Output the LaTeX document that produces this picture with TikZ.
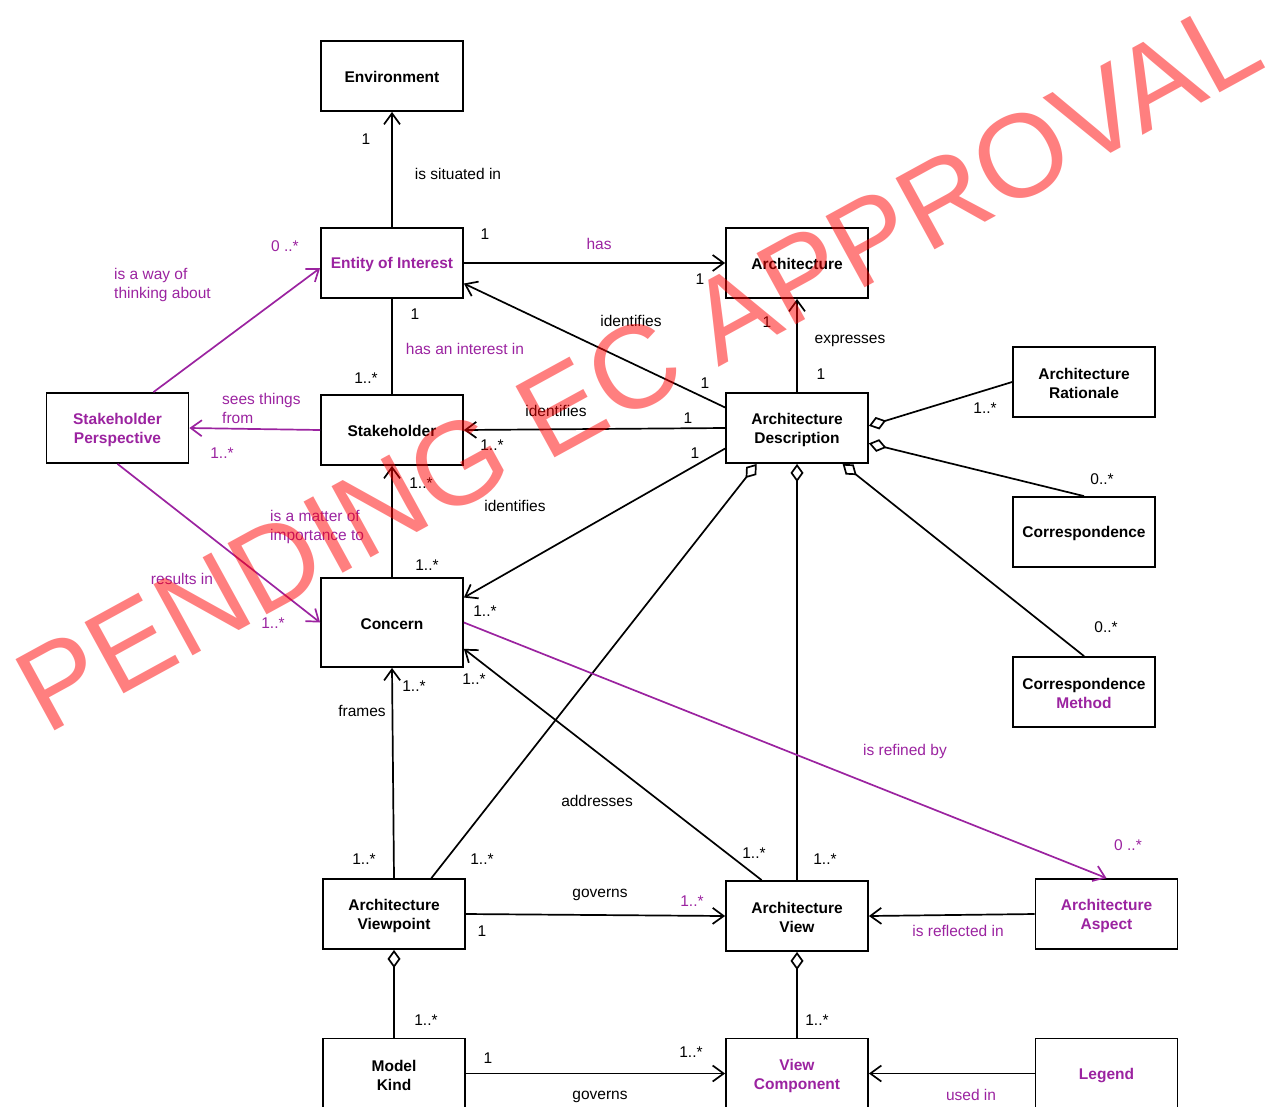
\documentclass[tikz,border=0pt]{standalone}
\usepackage{fontspec}
\setmainfont{Liberation Sans}
\usetikzlibrary{arrows.meta,calc}
\definecolor{plum}{RGB}{155,35,160}
% taller first line, lowers two-line class names a little
\newcommand\boxstrut{\rule[-1.5pt]{0pt}{17pt}}

\begin{document}
\begin{tikzpicture}[x=1pt,y=-1pt,
  box/.style={draw, line width=1.8pt, minimum width=142pt, minimum height=70pt,
    inner sep=0pt, align=center, font=\fontsize{15.5}{19}\selectfont\bfseries,
    execute at begin node={\rule[-1.5pt]{0pt}{16pt}},
    execute at end node={\rule[-1.5pt]{0pt}{16pt}}},
  pbox/.style={box, text=plum},
  lbl/.style={font=\fontsize{15.5}{19}\selectfont, inner sep=0pt, align=left},
  plbl/.style={lbl, text=plum},
  link/.style={line width=1.7pt},
  assoc/.style={link, -{Straight Barb[length=11pt,width=16pt]}},
  passoc/.style={assoc, draw=plum},
  agg/.style={link, -{Diamond[open,fill=white,length=18pt,width=13pt]}},
  stamp/.style={font=\fontsize{118}{118}\selectfont, text=red, opacity=0.5,
    inner sep=0pt, anchor=base west, rotate=28.7}
]
\useasboundingbox (0,0) rectangle (1273,1106);
\clip (0,0) rectangle (1273,1106);

% classes
\node[box]  (env)  at (392,76)  {Environment};
\node[pbox] (ent)  at (392,263) {Entity of Interest};
\node[box]  (arch) at (797,263) {Architecture};
\node[pbox] (sp)   at (117.5,428) {\boxstrut Stakeholder\\Perspective};
\node[box]  (sh)   at (392,430) {Stakeholder};
\node[box]  (ad)   at (797,428) {\boxstrut Architecture\\Description};
\node[box]  (ar)   at (1084,382) {\boxstrut Architecture\\Rationale};
\node[box]  (corr) at (1084,532) {Correspondence};
\node[box]  (cm)   at (1084,692) {\boxstrut Correspondence\\\textcolor{plum}{Method}};
\node[box, minimum height=89pt] (con) at (392,622.5) {Concern};
\node[box]  (vp)   at (394,914) {\boxstrut Architecture\\Viewpoint};
\node[box]  (view) at (797,916) {\boxstrut Architecture\\View};
\node[pbox] (asp)  at (1106.5,914) {\boxstrut Architecture\\Aspect};
\node[box]  (mk)   at (394,1073.5) {\boxstrut Model\\Kind};
\node[pbox] (vc)   at (797,1073.5) {\boxstrut View\\Component};
\node[pbox] (leg)  at (1106.5,1073.5) {Legend};

% associations
\draw[assoc] (ent.north) -- (env.south);
\draw[assoc] (ent.east) -- (arch.west);
\draw[link]  (sh.north) -- (ent.south);
\draw[passoc] (sh.west) -- (sp.east);
\draw[passoc] ($(sp.north west)!0.75!(sp.north east)$) -- ($(ent.north west)!0.57!(ent.south west)$);
\draw[passoc] (sp.south) -- (con.west);
\draw[assoc] (con.north) -- (sh.south);
\draw[assoc] (ad.north) -- (arch.south);
\draw[assoc] ($(ad.north west)!0.214!(ad.south west)$) -- ($(ent.north east)!0.786!(ent.south east)$);
\draw[assoc] (ad.west) -- (sh.east);
\draw[assoc] ($(ad.north west)!0.786!(ad.south west)$) -- ($(con.north east)!0.225!(con.south east)$);
\draw[agg] (ar.west) -- ($(ad.north east)!0.47!(ad.south east)$);
\draw[agg] (corr.north) -- ($(ad.north east)!0.714!(ad.south east)$);
\draw[agg] (cm.north) -- ($(ad.south west)!0.817!(ad.south east)$);
\draw[agg] ($(vp.north west)!0.76!(vp.north east)$) -- ($(ad.south west)!0.22!(ad.south east)$);
\draw[agg] (view.north) -- (ad.south);
\draw[assoc] ($(view.north west)!0.254!(view.north east)$) -- ($(con.north east)!0.79!(con.south east)$);
\draw[assoc] (vp.north) -- (con.south);
\draw[passoc] (con.east) -- (asp.north);
\draw[assoc] (vp.east) -- (view.west);
\draw[assoc] (asp.west) -- (view.east);
\draw[agg] (vc.north) -- (view.south);
\draw[agg] (mk.north) -- (vp.south);
\draw[assoc] (mk.east) -- (vc.west);
\draw[assoc] (leg.west) -- (vc.east);

% association names and multiplicities
\node[lbl]  (m1)  at (366,139) {1};
\node[lbl]  (n1)  at (458,174) {is situated in};
\node[lbl]  (m2)  at (485,234) {1};
\node[plbl] (n2)  at (599,244) {has};
\node[lbl]  (m3)  at (700,279) {1};
\node[plbl] (m4)  at (285,246) {0 ..*};
\node[plbl, anchor=west] (n3) at (114,285) {is a way of\\thinking about};
\node[lbl]  (m5)  at (415,314) {1};
\node[lbl]  (n4)  at (631,321) {identifies};
\node[lbl]  (m6)  at (767,322) {1};
\node[lbl]  (n5)  at (850,341) {expresses};
\node[plbl] (n6)  at (465,349) {has an interest in};
\node[lbl]  (m7)  at (821,374) {1};
\node[lbl]  (m8)  at (366,378) {1..*};
\node[lbl]  (m9)  at (705,383) {1};
\node[plbl, anchor=west] (n7) at (222,408) {sees things\\from};
\node[lbl]  (n8)  at (556,411) {identifies};
\node[lbl]  (m10) at (688,418) {1};
\node[lbl]  (m11) at (985,408) {1..*};
\node[lbl]  (m12) at (492,445) {1..*};
\node[lbl]  (m13) at (695,453) {1};
\node[plbl] (m14) at (222,453) {1..*};
\node[lbl]  (m15) at (1102,479) {0..*};
\node[lbl]  (m16) at (421,483) {1..*};
\node[lbl]  (n9)  at (515,506) {identifies};
\node[plbl, anchor=west] (n10) at (270,527) {is a matter of\\importance to};
\node[lbl]  (m17) at (427,565) {1..*};
\node[plbl] (n11) at (182,579) {results in};
\node[lbl]  (m18) at (485,611) {1..*};
\node[plbl] (m19) at (273,623) {1..*};
\node[lbl]  (m20) at (1106,627) {0..*};
\node[lbl]  (m21) at (474,679) {1..*};
\node[lbl]  (m22) at (414,686) {1..*};
\node[lbl]  (n12) at (362,711) {frames};
\node[plbl] (n13) at (905,751) {is refined by};
\node[lbl]  (n14) at (597,801) {addresses};
\node[plbl] (m23) at (1128,845) {0 ..*};
\node[lbl]  (m24) at (754,853) {1..*};
\node[lbl]  (m25) at (364,859) {1..*};
\node[lbl]  (m26) at (482,859) {1..*};
\node[lbl]  (m27) at (825,859) {1..*};
\node[lbl]  (n15) at (600,895) {governs};
\node[plbl] (m28) at (692,901) {1..*};
\node[lbl]  (m29) at (482,931) {1};
\node[plbl] (n16) at (958,931) {is reflected in};
\node[lbl]  (m30) at (426,1020) {1..*};
\node[lbl]  (m31) at (817,1020) {1..*};
\node[lbl]  (m32) at (691,1052) {1..*};
\node[lbl]  (m33) at (488,1058) {1};
\node[lbl]  (n17) at (600,1097) {governs};
\node[plbl] (n18) at (971,1095) {used in};

% approval stamp
\node[stamp] (wm) at (46,736) {PENDING EC APPROVAL};
\end{tikzpicture}
\end{document}
